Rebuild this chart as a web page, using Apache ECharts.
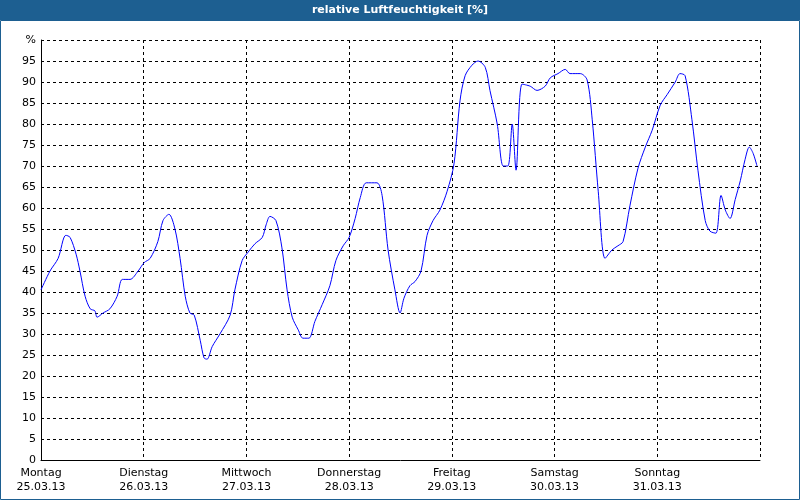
<!DOCTYPE html>
<html><head><meta charset="utf-8">
<script src="https://cdn.jsdelivr.net/npm/echarts@6/dist/echarts.min.js"></script>
<style>html,body{margin:0;padding:0;background:#fff}#c{width:800px;height:500px}</style>
</head><body><div id="c"></div>
<script>
const dayLabels = ["Montag\n25.03.13","Dienstag\n26.03.13","Mittwoch\n27.03.13","Donnerstag\n28.03.13","Freitag\n29.03.13","Samstag\n30.03.13","Sonntag\n31.03.13"];
const hours = [0,2.1,4.0,5.8,6.8,8.2,9.1,10.3,11.5,12.6,13.1,14.5,16.1,17.8,19.0,20.8,22.7,24.1,25.5,27.3,28.5,29.9,31.3,32.5,33.7,34.8,35.8,37.2,38.1,38.8,40.0,41.8,44.2,45.3,47.0,48.4,50.0,51.7,52.6,53.5,54.9,56.3,57.5,58.7,60.1,61.2,62.6,64.0,65.7,67.5,68.9,70.6,72.0,73.4,74.6,76.0,78.5,79.7,81.1,82.7,83.9,84.8,86.2,87.4,88.8,90.2,91.6,93.2,94.9,96.5,97.9,99.1,100.7,102.1,103.8,104.9,106.6,108.0,109.1,110.1,111.0,112.4,114.3,115.9,117.8,119.0,120.8,122.5,123.6,126.0,127.6,128.8,130.2,131.8,133.4,134.8,136.0,137.6,139.5,141.2,142.8,144.7,146.3,148.2,149.3,150.5,152.1,153.5,155.2,156.3,157.7,158.9,159.9,161.0,162.2,163.4,164.5,165.5,166.4,167.3];
const humidity = [40.5,45,48,53.5,53,49,45,39,36,35.5,34,35,36,39,43,43,45,47,48,52,57,58.5,55,48,39,35,34.5,28.5,24.3,24,27,30,34.5,40.5,47.5,49.5,51.5,53,56,58,57,50.5,40.5,34,31,29,29,33,37,41.5,47.5,51,53,57.5,62.5,66,66,63,50,40.5,35,38.5,41.5,42.5,45,53.5,57,59.5,64,70.5,85.5,91.5,94,95,93.5,88,80,70,70,80,69,89.5,89,88,89,91,92,93,92,92,90.5,81,64,48,50,51,52,60.5,69.5,74.5,78.5,84.5,87,90,92,91.5,81,69,57,54.5,54,63,59.5,57.5,62,66.5,71.5,74.5,73,70];
const yTicks = [0,5,10,15,20,25,30,35,40,45,50,55,60,65,70,75,80,85,90,95,"%"];
const chart = echarts.init(document.getElementById('c'));
chart.setOption({
  animation:false,
  textStyle:{fontFamily:'DejaVu Sans'},
  graphic:[
    {type:'rect',shape:{x:0,y:0,width:800,height:20},style:{fill:'#1d5f91'}},
    {type:'text',x:400,y:10,style:{text:'relative Luftfeuchtigkeit [%]',fill:'#fff',font:'bold 11px DejaVu Sans',align:'center',verticalAlign:'middle'}},
    {type:'rect',shape:{x:0.5,y:20.5,width:799,height:479},style:{fill:'none',stroke:'#1d5f91'}}
  ],
  grid:{left:41,right:40,top:40,bottom:40},
  xAxis:{type:'value',min:0,max:168,interval:24,
    axisLine:{lineStyle:{color:'#000'}},axisTick:{show:false},
    splitLine:{show:true,lineStyle:{color:'#000',type:[3,3]}},
    axisLabel:{color:'#000',fontSize:11,lineHeight:14,margin:6,
      formatter:v=>dayLabels[Math.round(v/24)]||''}},
  yAxis:{type:'value',min:0,max:100,interval:5,
    axisLine:{show:true,lineStyle:{color:'#000'}},axisTick:{show:false},
    splitLine:{show:true,lineStyle:{color:'#000',type:[3,3]}},
    axisLabel:{color:'#000',fontSize:11,margin:5,formatter:v=>String(yTicks[Math.round(v/5)])}},
  series:[{type:'line',data:hours.map((h,i)=>[h,humidity[i]]),showSymbol:false,smooth:0.3,
    lineStyle:{color:'#0000ff',width:1}}]
});
</script></body></html>
